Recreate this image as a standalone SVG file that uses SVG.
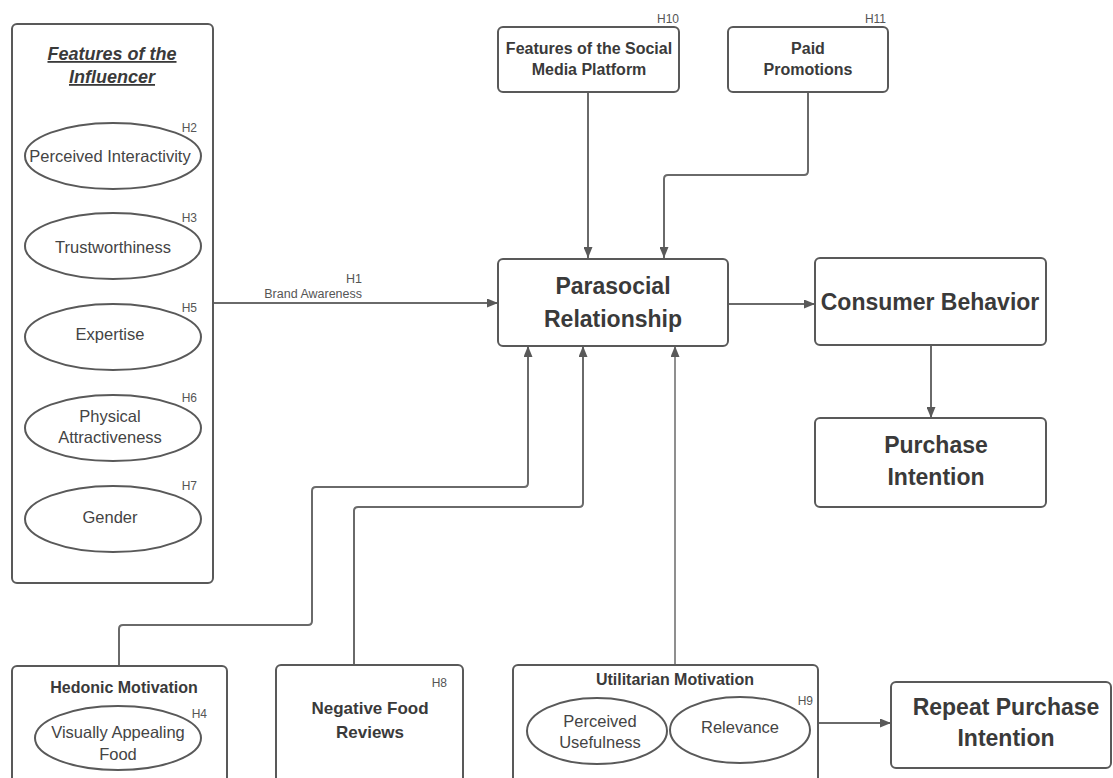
<svg xmlns="http://www.w3.org/2000/svg" width="1113" height="778" viewBox="0 0 1113 778">
  <defs>
    <style>
      .box { fill: #ffffff; stroke: #595959; stroke-width: 2; }
      .oval { fill: #ffffff; stroke: #595959; stroke-width: 2; }
      .wire { fill: none; stroke: #6a6a6a; stroke-width: 2; }
      .thin { stroke-width: 1.5; }
      text { font-family: "Liberation Sans", Arial, sans-serif; fill: #3a3a3a; }
      .big { font-size: 23px; font-weight: bold; text-anchor: middle; }
      .mid { font-size: 17px; font-weight: bold; text-anchor: middle; }
      .head { font-size: 16px; font-weight: bold; text-anchor: middle; }
      .item { font-size: 16.5px; text-anchor: middle; fill: #444; }
      .hyp { font-size: 12px; text-anchor: end; fill: #555; }
      .title { font-size: 18px; font-weight: bold; font-style: italic; text-anchor: middle; text-decoration: underline; }
      .lbl { font-size: 12.5px; text-anchor: end; fill: #555; }
    </style>
    <marker id="arrow" markerUnits="userSpaceOnUse" markerWidth="11" markerHeight="9" refX="11" refY="4.5" orient="auto">
      <path d="M0,0 L11,4.5 L0,9 z" fill="#595959"/>
    </marker>
  </defs>

  <rect width="1113" height="778" fill="#ffffff"/>

  <!-- connectors -->
  <g id="connectors">
    <path class="wire" d="M213,303 H498" marker-end="url(#arrow)"/>
    <path class="wire" d="M588,92 V258" marker-end="url(#arrow)"/>
    <path class="wire" d="M808,92 V171 Q808,175 804,175 H668 Q664,175 664,179 V258" marker-end="url(#arrow)"/>
    <path class="wire" d="M728,304 H815" marker-end="url(#arrow)"/>
    <path class="wire" d="M931,345 V418" marker-end="url(#arrow)"/>
    <path class="wire" d="M119,666 V629 Q119,625 123,625 H308 Q312,625 312,621 V491 Q312,487 316,487 H524 Q528,487 528,483 V346" marker-end="url(#arrow)"/>
    <path class="wire" d="M354,665 V511 Q354,507 358,507 H579 Q583,507 583,503 V346" marker-end="url(#arrow)"/>
    <path class="wire thin" d="M675,665 V346" marker-end="url(#arrow)"/>
    <path class="wire" d="M818,723 H891" marker-end="url(#arrow)"/>
    <text class="lbl" x="362" y="283">H1</text>
    <text class="lbl" x="362" y="298">Brand Awareness</text>
  </g>

  <!-- influencer features panel -->
  <g id="influencer">
    <rect class="box" x="12" y="24" width="201" height="559" rx="5"/>
    <text class="title" x="112" y="60">Features of the</text>
    <text class="title" x="112" y="83">Influencer</text>

    <ellipse class="oval" cx="113" cy="156" rx="88" ry="33"/>
    <text class="item" x="110" y="162">Perceived Interactivity</text>
    <text class="hyp" x="197" y="132">H2</text>

    <ellipse class="oval" cx="113" cy="246" rx="88" ry="33"/>
    <text class="item" x="113" y="253">Trustworthiness</text>
    <text class="hyp" x="197" y="222">H3</text>

    <ellipse class="oval" cx="113" cy="337" rx="88" ry="33"/>
    <text class="item" x="110" y="340">Expertise</text>
    <text class="hyp" x="197" y="312">H5</text>

    <ellipse class="oval" cx="113" cy="428" rx="88" ry="33"/>
    <text class="item" x="110" y="422">Physical</text>
    <text class="item" x="110" y="443">Attractiveness</text>
    <text class="hyp" x="197" y="402">H6</text>

    <ellipse class="oval" cx="113" cy="519" rx="88" ry="33"/>
    <text class="item" x="110" y="523">Gender</text>
    <text class="hyp" x="197" y="490">H7</text>
  </g>

  <!-- social media platform -->
  <g id="platform">
    <rect class="box" x="498" y="27" width="181" height="65" rx="5"/>
    <text class="head" x="589" y="54">Features of the Social</text>
    <text class="head" x="589" y="75">Media Platform</text>
    <text class="hyp" x="679" y="23">H10</text>
  </g>

  <!-- paid promotions -->
  <g id="paid">
    <rect class="box" x="728" y="27" width="160" height="65" rx="5"/>
    <text class="head" x="808" y="54">Paid</text>
    <text class="head" x="808" y="75">Promotions</text>
    <text class="hyp" x="886" y="23">H11</text>
  </g>

  <!-- parasocial relationship -->
  <g id="parasocial">
    <rect class="box" x="498" y="259" width="230" height="87" rx="5"/>
    <text class="big" x="613" y="294">Parasocial</text>
    <text class="big" x="613" y="327">Relationship</text>
  </g>

  <!-- consumer behavior -->
  <g id="consumer">
    <rect class="box" x="815" y="258" width="231" height="87" rx="5"/>
    <text class="big" x="930" y="310">Consumer Behavior</text>
  </g>

  <!-- purchase intention -->
  <g id="purchase">
    <rect class="box" x="815" y="418" width="231" height="89" rx="5"/>
    <text class="big" x="936" y="453">Purchase</text>
    <text class="big" x="936" y="485">Intention</text>
  </g>

  <!-- hedonic motivation -->
  <g id="hedonic">
    <rect class="box" x="12" y="666" width="215" height="130" rx="5"/>
    <text class="head" x="124" y="693">Hedonic Motivation</text>
    <ellipse class="oval" cx="118" cy="738" rx="83" ry="32"/>
    <text class="item" x="118" y="738">Visually Appealing</text>
    <text class="item" x="118" y="760">Food</text>
    <text class="hyp" x="207" y="718">H4</text>
  </g>

  <!-- negative food reviews -->
  <g id="reviews">
    <rect class="box" x="276" y="665" width="187" height="130" rx="5"/>
    <text class="mid" x="370" y="714">Negative Food</text>
    <text class="mid" x="370" y="738">Reviews</text>
    <text class="hyp" x="447" y="687">H8</text>
  </g>

  <!-- utilitarian motivation -->
  <g id="utilitarian">
    <rect class="box" x="513" y="665" width="305" height="130" rx="5"/>
    <text class="head" x="675" y="685">Utilitarian Motivation</text>
    <ellipse class="oval" cx="597" cy="731" rx="70" ry="33"/>
    <text class="item" x="600" y="727">Perceived</text>
    <text class="item" x="600" y="748">Usefulness</text>
    <ellipse class="oval" cx="740" cy="730" rx="70" ry="33"/>
    <text class="item" x="740" y="733">Relevance</text>
    <text class="hyp" x="813" y="705">H9</text>
  </g>

  <!-- repeat purchase intention -->
  <g id="repeat">
    <rect class="box" x="891" y="682" width="220" height="86" rx="5"/>
    <text class="big" x="1006" y="715">Repeat Purchase</text>
    <text class="big" x="1006" y="746">Intention</text>
  </g>
</svg>
